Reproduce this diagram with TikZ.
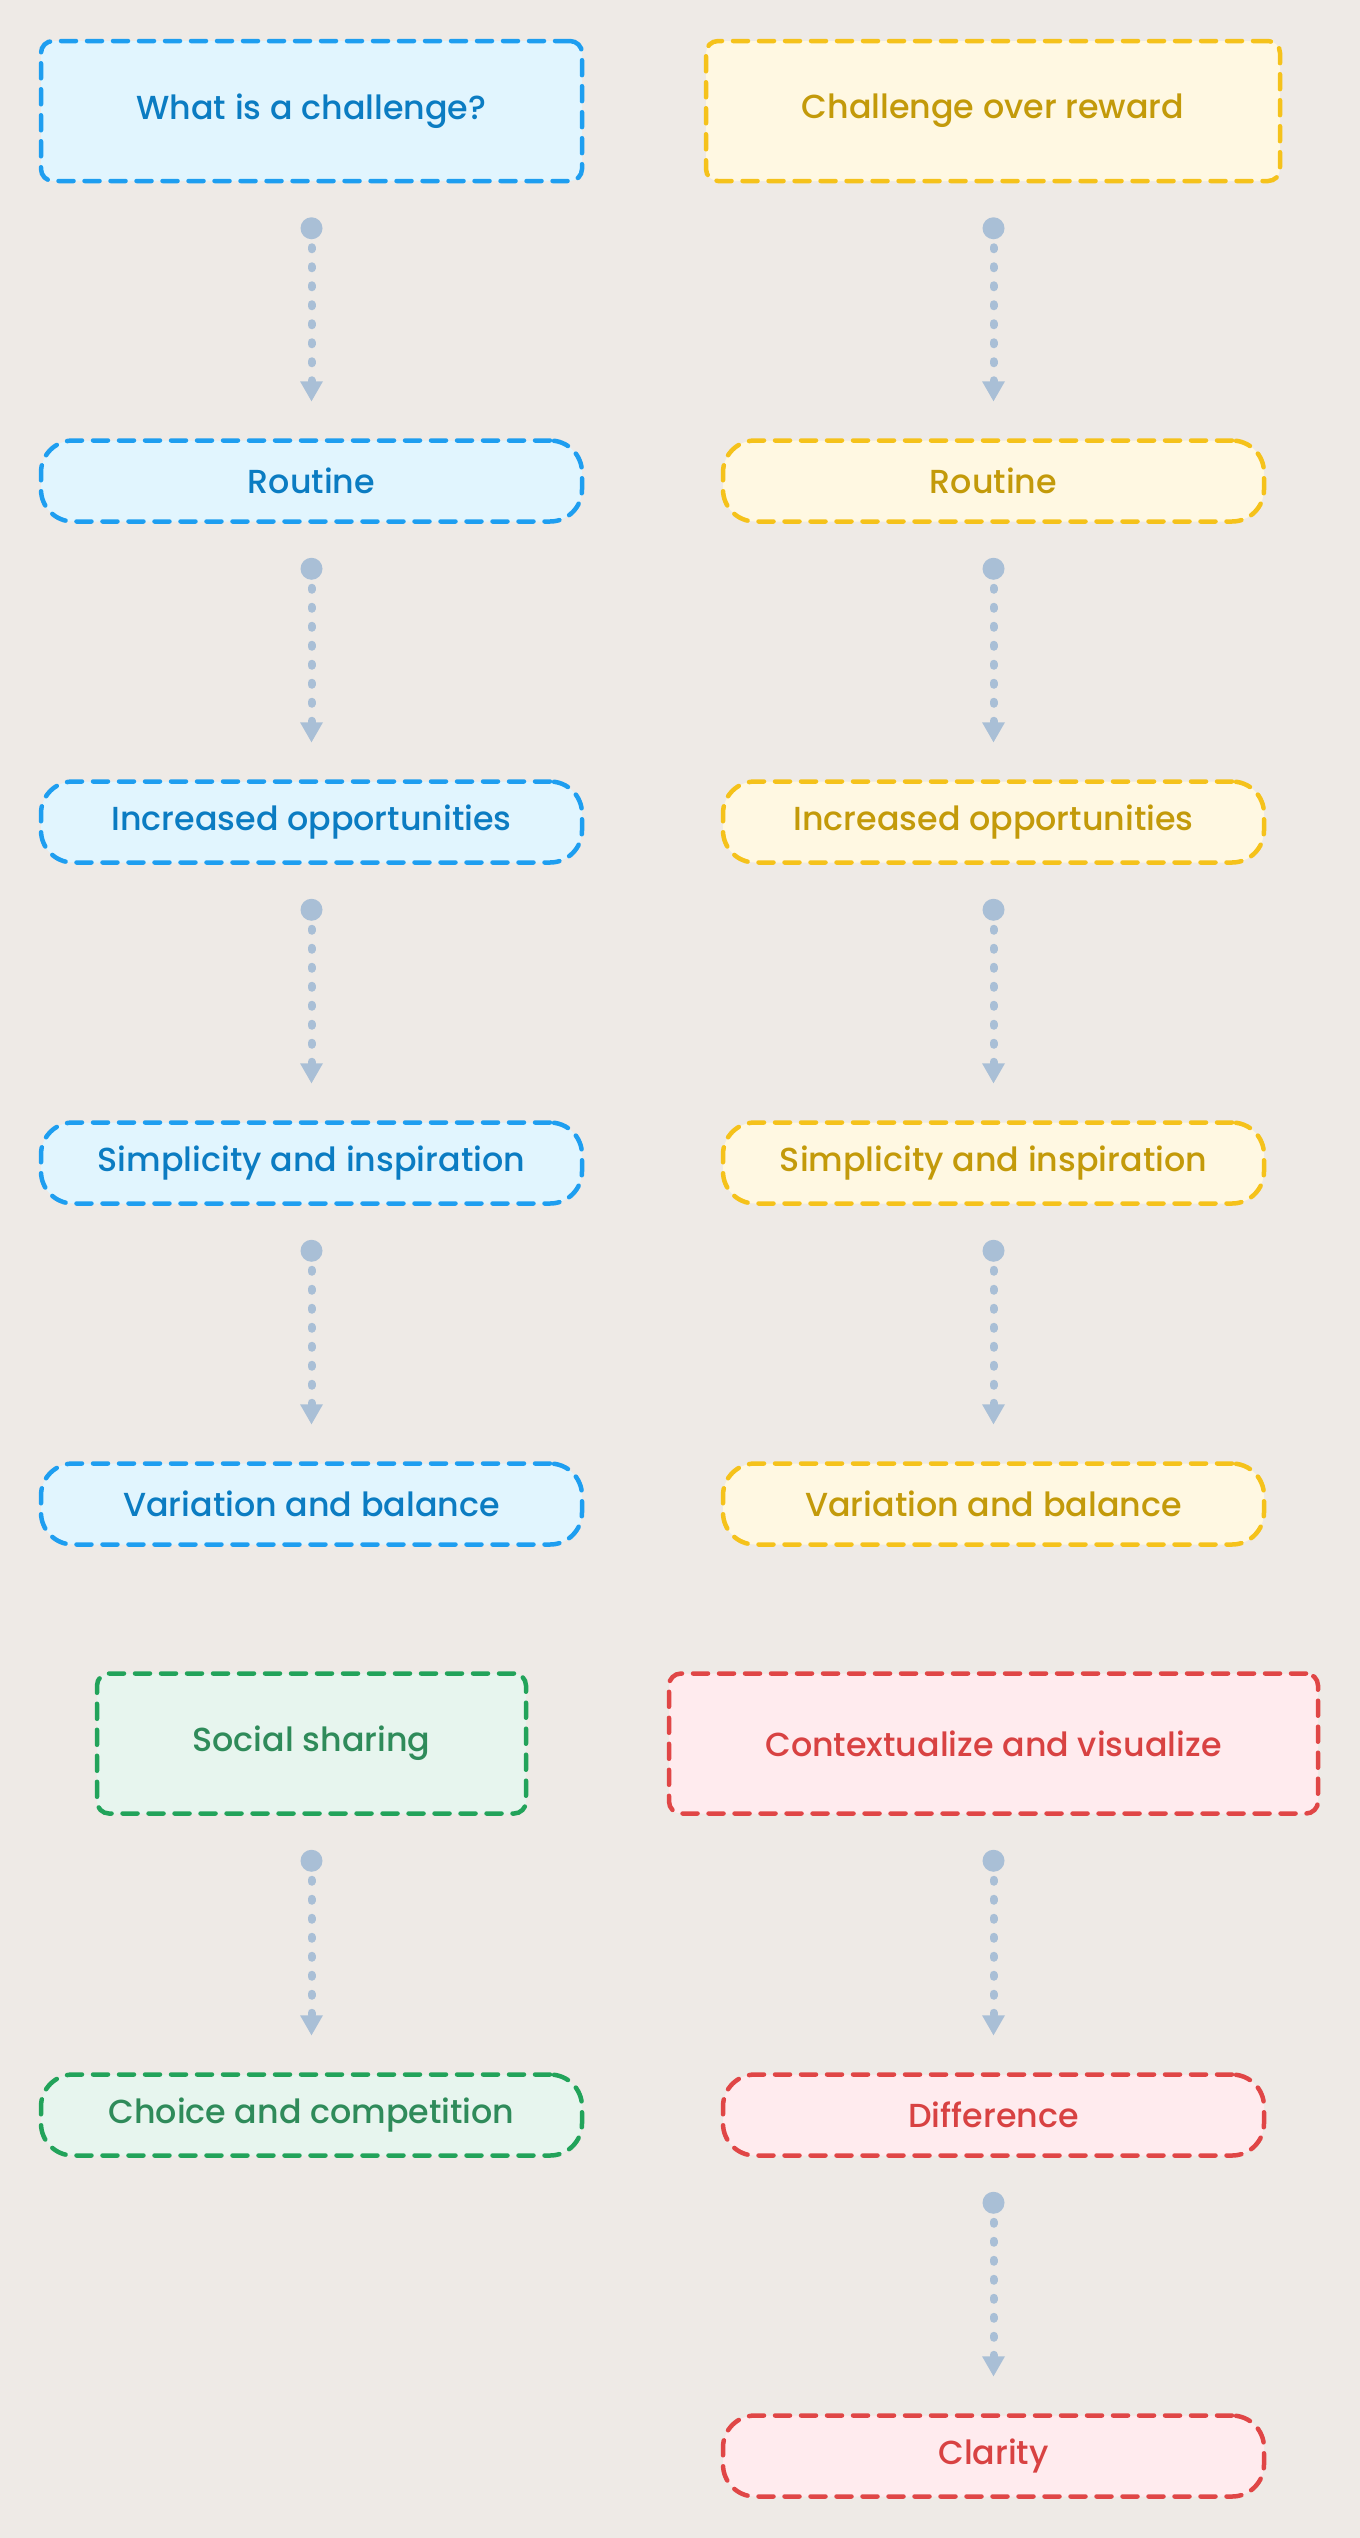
\documentclass[tikz,border=0pt]{standalone}
\usepackage{fontspec}
\setmainfont{Poppins}[UprightFont={Poppins Medium}]
\usetikzlibrary{arrows.meta}
\definecolor{bgc}{HTML}{EEEAE6}
\definecolor{bdraw}{HTML}{1E9EF0}
\definecolor{bfill}{HTML}{E1F5FE}
\definecolor{btext}{HTML}{0B7CC2}
\definecolor{ydraw}{HTML}{F5C21B}
\definecolor{yfill}{HTML}{FFF8E2}
\definecolor{ytext}{HTML}{C39A0A}
\definecolor{gdraw}{HTML}{22A35A}
\definecolor{gfill}{HTML}{E7F5EE}
\definecolor{gtext}{HTML}{2F8B5A}
\definecolor{rdraw}{HTML}{E04646}
\definecolor{rfill}{HTML}{FFEBEE}
\definecolor{rtext}{HTML}{D84242}
\definecolor{connc}{HTML}{A9BFD6}
\begin{document}
\begin{tikzpicture}[x=1pt,y=-1pt,
  base/.style={draw, line width=4.5pt, dash pattern=on 15pt off 11pt, line cap=round,
    font=\fontsize{33.3}{40}\selectfont, align=center, inner sep=0pt},
  bigbox/.style={base, rectangle, rounded corners=12pt, minimum height=140pt},
  pill/.style={base, rectangle, rounded corners=32pt, minimum height=81pt, minimum width=541pt},
  cblue/.style={draw=bdraw, fill=bfill, text=btext},
  cyellow/.style={draw=ydraw, fill=yfill, text=ytext},
  cgreen/.style={draw=gdraw, fill=gfill, text=gtext},
  cred/.style={draw=rdraw, fill=rfill, text=rtext},
  conn/.style={draw=connc, line width=8pt, dash pattern=on 2pt off 17pt, dash phase=11pt, line cap=round,
    shorten <=34pt, shorten >=37pt,
    {Circle[length=22pt,width=22pt,line width=0pt]}-{Triangle[length=20pt,width=23pt,line width=0pt]}}
]
\fill[bgc] (0,0) rectangle (1360,2538);
\useasboundingbox (0,0) rectangle (1360,2538);

% left column
\node[bigbox, cblue, minimum width=541pt] (l0) at (311.5,111) {What is a challenge?};
\node[pill, cblue] (l1) at (311.5,481) {Routine};
\node[pill, cblue] (l2) at (311.5,822) {Increased opportunities};
\node[pill, cblue] (l3) at (311.5,1163) {Simplicity and inspiration};
\node[pill, cblue] (l4) at (311.5,1504) {Variation and balance};

% right column
\node[bigbox, cyellow, minimum width=574pt] (r0) at (993,111) {Challenge over reward};
\node[pill, cyellow] (r1) at (993.5,481) {Routine};
\node[pill, cyellow] (r2) at (993.5,822) {Increased opportunities};
\node[pill, cyellow] (r3) at (993.5,1163) {Simplicity and inspiration};
\node[pill, cyellow] (r4) at (993.5,1504) {Variation and balance};

% lower section
\node[bigbox, cgreen, minimum width=429pt] (g0) at (311.5,1743.5) {Social sharing};
\node[pill, cgreen] (g1) at (311.5,2115) {Choice and competition};
\node[bigbox, cred, minimum width=649pt] (e0) at (993.5,1743.5) {Contextualize and visualize};
\node[pill, cred] (e1) at (993.5,2115) {Difference};
\node[pill, cred] (e2) at (993.5,2456) {Clarity};

% connectors
\draw[conn] (l0) -- (l1);
\draw[conn] (l1) -- (l2);
\draw[conn] (l2) -- (l3);
\draw[conn] (l3) -- (l4);
\draw[conn] (r0.south -| r1) -- (r1);
\draw[conn] (r1) -- (r2);
\draw[conn] (r2) -- (r3);
\draw[conn] (r3) -- (r4);
\draw[conn] (g0) -- (g1);
\draw[conn] (e0) -- (e1);
\draw[conn] (e1) -- (e2);
\end{tikzpicture}
\end{document}
